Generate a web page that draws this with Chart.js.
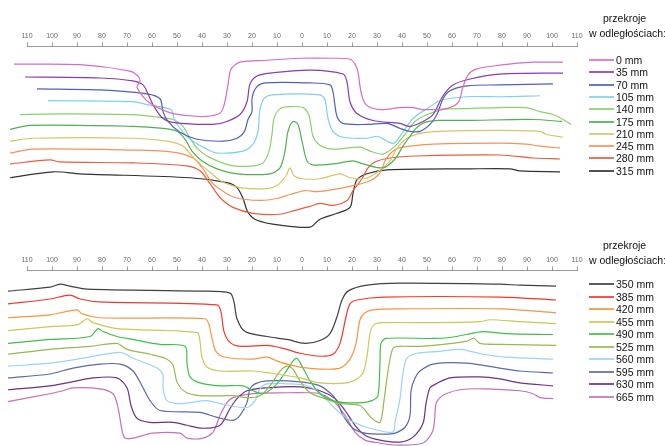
<!DOCTYPE html>
<html>
<head>
<meta charset="utf-8">
<script src="https://cdn.jsdelivr.net/npm/chart.js@4.4.0/dist/chart.umd.min.js"></script>
<style>
  body { margin: 0; background: #fff; width: 665px; height: 446px; overflow: hidden; position: relative;
         font-family: "Liberation Sans", Arial, sans-serif; }
  canvas { position: absolute; left: 0; }
  #c1 { top: 0; }
  #c2 { top: 224px; }
  .lg { position: absolute; font-size: 10.5px; color: #111; white-space: nowrap; line-height: 12px; }
  .sw { position: absolute; height: 2px; width: 25px; opacity: 0.85; }
</style>
</head>
<body>
<canvas id="c1" width="665" height="236"></canvas>
<canvas id="c2" width="665" height="222"></canvas>
<div id="legends"></div>
<script>
// odległość od osi [-110..110], głębokość (w dół od osi)
const topSections = ['0 mm', '35 mm', '70 mm', '105 mm', '140 mm', '175 mm', '210 mm', '245 mm', '280 mm', '315 mm'];
const bottomSections = ['350 mm', '385 mm', '420 mm', '455 mm', '490 mm', '525 mm', '560 mm', '595 mm', '630 mm', '665 mm'];
const axisTicks = [-110, -100, -90, -80, -70, -60, -50, -40, -30, -20, -10, 0, 10, 20, 30, 40, 50, 60, 70, 80, 90, 100, 110];

const p0 = [[-115.2,18],[-88.8,18.5],[-68.8,25],[-65.6,30],[-64.8,35],[-66,41],[-64.4,48],[-61.6,56],[-56.8,63],[-51.6,68],[-40.8,71],[-34,69],[-31.6,63],[-29.6,39],[-28.4,23],[-24.8,16],[-14,14],[-0.8,12],[12.4,12],[19.2,13],[21.2,18],[22.4,26],[23.6,46],[25.6,59],[31.2,64],[39.2,62],[44.4,62],[48.4,64],[57.6,63],[62.4,57],[64.4,41],[66.4,29],[69.6,23],[79.2,19],[92.4,16],[104.4,16]];
const p35 = [[-110.8,31],[-80.8,32],[-67.6,35],[-63.6,39],[-61.6,48],[-59.6,59],[-56,72],[-51.6,77],[-35.6,79],[-30,76],[-24.8,69],[-22,56],[-20.8,38],[-18,30],[-12.8,27],[3.2,24],[16.4,28],[18,36],[19.2,56],[22,68],[28.4,75],[39.2,78],[43.2,81],[48.4,76],[52.4,69],[56.4,50],[60.4,39],[67.2,33],[79.2,28],[104.4,27]];
const p70 = [[-106,43],[-80.8,44],[-62,48],[-56.8,53],[-55.6,66],[-53.6,76],[-48.8,87],[-42,94],[-31.6,96],[-26,93],[-23,86],[-21.6,74],[-20,66],[-20,53],[-18.4,42],[-14.8,37],[3.2,37],[11.2,39],[12.4,46],[14,71],[16.4,78],[26,79],[34,78],[39.2,83],[43.2,86],[47.2,86],[51.2,79],[54,69],[56.4,53],[59.2,45],[66,40],[79.2,39],[100.4,38]];
const p105 = [[-101.6,55],[-67.6,56],[-62,59],[-54.8,62],[-52,65],[-51.2,73],[-47.6,87],[-43.6,96],[-38,104],[-34,108],[-23.6,106],[-19.6,99],[-17.6,86],[-16.8,64],[-15.2,53],[-12,49],[7.2,49],[9.2,54],[10.4,73],[12.4,86],[16.4,92],[26,93],[30,91],[34,96],[36.8,98],[40,88],[44.4,73],[50,63],[55.2,55],[65.6,51],[79.2,51],[95.2,50]];
const p140 = [[-116.8,73],[-112.8,69],[-67.6,69],[-59.6,71],[-51.6,74],[-47.6,81],[-44.8,93],[-42,103],[-38,111],[-32.8,117],[-27.6,121],[-19.6,121],[-15.6,118],[-13.2,106],[-12,89],[-11.2,73],[-8.8,63],[-4.8,61],[0.4,62],[2.8,70],[4.4,91],[7.2,100],[12.4,104],[23.2,102],[27.2,106],[32.4,109],[37.2,101],[41.2,89],[45.2,76],[49.2,70],[56.4,64],[65.6,63],[79.2,62],[89.6,62],[95.2,66],[100.4,69],[104.4,74],[107.6,79]];
const p175 = [[-116.8,84],[-108.8,80],[-67.6,81],[-55.6,83],[-50,86],[-46.8,94],[-44,106],[-40,116],[-34,124],[-26,129],[-12.8,129],[-8.8,123],[-6.8,106],[-5.6,86],[-3.6,76],[-1.6,79],[0,96],[2,116],[4.4,120],[12.4,119],[20.4,116],[24.4,119],[32.4,123],[37.2,114],[40.4,101],[43.2,91],[45.6,83],[49.2,77],[55.2,75],[65.6,75],[92.4,74],[104,76]];
const p210 = [[-116.8,96],[-107.6,93],[-67.6,93],[-54,96],[-47.6,101],[-44,111],[-40.8,119],[-36,129],[-32,137],[-24.8,143],[-14,144],[-9.6,140],[-6.4,131],[-4.8,123],[-3.2,131],[0.4,134],[7.2,134],[15.2,129],[19.2,133],[25.2,134],[30.4,127],[35.2,116],[38,103],[42,93],[47.2,88],[55.2,86],[79.2,85],[95.2,86],[97.6,89],[104.4,92]];
const p245 = [[-116.8,108],[-107.6,104],[-67.6,105],[-51.6,107],[-43.6,113],[-39.6,124],[-36,138],[-32,146],[-26.8,153],[-16.8,156],[-10,154],[-4.8,150],[1.2,146],[6,147],[12.4,145],[20.4,141],[27.2,136],[31.2,128],[33.6,114],[37.6,104],[43.2,101],[52.4,99],[79.2,98],[89.6,99],[95.2,101],[103.2,103]];
const p280 = [[-116.8,119],[-100.8,115],[-96.8,117],[-67.6,118],[-46,121],[-40.8,126],[-36.8,139],[-32.8,153],[-27.6,163],[-19.6,169],[-8.8,170],[-2.8,166],[3.2,162],[7.2,159],[12.4,161],[18,156],[20.4,146],[24,134],[26.4,123],[29.2,117],[35.2,113],[46,111],[79.2,110],[92.4,113],[103.2,114]];
const p315 = [[-116.8,133],[-99.6,127],[-88.8,129],[-44.8,133],[-30,138],[-26,143],[-23.6,154],[-21.6,168],[-18,176],[-8.8,181],[3.2,183],[7.2,175],[14,169],[19.2,163],[20.4,149],[22,135],[26,129],[34,125],[67.2,124],[83.2,124],[87.2,126],[103.2,127]];

const p350 = [[-117.6,21],[-100.8,17],[-96.8,14],[-92.8,16],[-86,19],[-40.8,21],[-28.8,23],[-27.2,32],[-26,49],[-22.8,62],[-14,67],[-6,70],[1.2,74],[7.2,71],[11.2,64],[14,47],[16,30],[18.4,21],[26,15],[39.2,13],[79.2,14],[87.2,15],[101.6,16]];
const p385 = [[-117.6,34],[-100.8,29],[-92.8,25],[-88.8,29],[-80.8,32],[-34,35],[-32.4,42],[-31.2,62],[-28.8,73],[-24.8,77],[-14,76],[-7.6,79],[-0.8,84],[7.2,87],[12.4,85],[15.2,74],[17.6,47],[19.2,34],[22,30],[32.4,27],[79.2,27],[101.6,30]];
const p420 = [[-117.6,48],[-100.8,45],[-90,40],[-88,44],[-80.8,48],[-38.8,49],[-37.2,55],[-36,69],[-34.4,82],[-30.8,88],[-19.6,90],[-14,88],[-8.8,93],[-0.8,98],[7.2,100],[15.2,99],[19.2,90],[21.6,74],[23.2,50],[25.2,43],[28.4,40],[39.2,39],[79.2,39],[101.6,43]];
const p455 = [[-117.6,61],[-100.8,57],[-89.6,55],[-86,49],[-83.6,53],[-74,59],[-42,63],[-40.8,72],[-40,88],[-38,98],[-32.8,102],[-19.6,102],[-12.8,104],[-0.8,109],[7.2,114],[18,114],[22,110],[24.4,104],[26,87],[27.2,64],[28.8,55],[32.4,53],[52.4,53],[71.2,52],[75.2,50],[87.2,52],[101.6,54]];
const p490 = [[-117.6,74],[-100.8,70],[-84.8,67],[-81.6,59],[-79.6,62],[-74,67],[-67.6,70],[-56.8,75],[-46.8,77],[-46,94],[-44.8,108],[-40.8,114],[-32.8,117],[-23.6,117],[-19.6,122],[-15.6,125],[-10.8,117],[-6.8,104],[-3.6,92],[-2,89],[0,97],[3.2,112],[7.2,125],[12.4,132],[17.2,134],[24,134],[28,132],[30.4,127],[31.2,92],[31.6,74],[33.6,69],[52.4,69],[59.2,68],[69.6,63],[72.4,62],[81.6,64],[100.4,65]];
const p525 = [[-117.6,85],[-100.8,80],[-84.8,77],[-74,74],[-70,80],[-60.8,85],[-54,90],[-51.6,96],[-50,113],[-46.8,123],[-40.8,127],[-27.6,127],[-22,129],[-16.8,127],[-12.8,117],[-8.8,102],[-6,97],[-3.6,100],[-0.8,112],[3.2,124],[9.2,130],[15.2,135],[23.2,137],[28,150],[31.2,154],[32.8,132],[34.4,102],[36.4,79],[39.2,77],[47.2,77],[56.4,75],[65.6,72],[68.8,69],[71.2,74],[79.2,75],[101.6,76]];
const p560 = [[-117.6,97],[-100.8,94],[-87.6,89],[-72.8,83],[-67.6,89],[-58,99],[-55.6,106],[-55.6,119],[-54,132],[-48.8,135],[-38,132],[-32.8,135],[-22,139],[-18.8,132],[-16.8,120],[-14,115],[-6,115],[2,117],[7.2,124],[13.2,140],[19.2,152],[27.2,160],[36.4,164],[37.2,154],[39.2,130],[40.4,104],[42,89],[46,84],[55.2,82],[63.2,80],[72.4,85],[81.6,88],[100.4,90]];
const p595 = [[-117.6,109],[-100.8,105],[-91.6,99],[-80.8,95],[-72.8,95],[-67.6,102],[-63.6,119],[-60.8,132],[-56.8,142],[-40.8,144],[-34,149],[-27.6,152],[-24.8,147],[-22,134],[-20.8,120],[-18.8,115],[-14,112],[-0.8,113],[7.2,117],[12.4,127],[14.4,135],[16.4,147],[20.4,160],[25.2,165],[33.2,166],[37.2,165],[41.2,159],[43.2,147],[43.6,122],[45.2,109],[47.2,102],[52.4,95],[65.6,94],[79.2,99],[87.2,102],[100.4,104]];
const p630 = [[-117.6,121],[-100.8,117],[-94,114],[-83.6,109],[-74,109],[-70,119],[-68.4,137],[-66,150],[-60.8,154],[-51.6,154],[-46,157],[-39.6,160],[-32.8,157],[-28.8,140],[-26,130],[-22,122],[-14,119],[-0.8,118],[7.2,122],[13.2,130],[17.2,142],[21.2,157],[25.2,167],[31.2,172],[39.2,174],[44.4,169],[48.4,155],[49.6,135],[51.2,119],[53.6,115],[59.2,109],[71.2,108],[79.2,110],[87.2,114],[100.4,117]];
const p665 = [[-117.6,133],[-100.8,125],[-95.6,122],[-91.6,119],[-80.8,120],[-75.6,125],[-73.6,139],[-72,162],[-70.8,170],[-67.6,170],[-59.6,165],[-48.8,165],[-46,170],[-39.6,170],[-35.6,164],[-32.8,147],[-30,134],[-27.6,129],[-19.6,125],[-6,124],[2,124],[7.2,125],[12.4,132],[17.2,147],[21.2,164],[25.2,172],[31.2,175],[37.2,177],[48.4,175],[52.4,162],[53.6,135],[55.2,129],[57.6,125],[63.2,121],[72.4,120],[87.2,122],[92.4,125],[95.2,129],[100.4,130]];

const topProfiles = [p0, p35, p70, p105, p140, p175, p210, p245, p280, p315];
const bottomProfiles = [p350, p385, p420, p455, p490, p525, p560, p595, p630, p665];

const topColors = ['#d86cc4', '#8b3ca8', '#4d62b8', '#7dd0ee', '#8bd06a', '#4fb04f', '#d8c468', '#f2935a', '#e85d3c', '#333333'];
const bottomColors = ['#404040', '#f0382a', '#f7953f', '#c9c955', '#3fbf4a', '#98b850', '#9ad4f0', '#5a6aa8', '#6e2f86', '#c870b0'];

function makeChart(id, labels, profiles, colors, depthMax) {
    return new Chart(document.getElementById(id), {
        type: 'line',
        data: {
            datasets: profiles.map((p, i) => ({
                label: labels[i],
                data: p.map(([x, y]) => ({ x, y })),
                borderColor: colors[i],
                borderWidth: 1.2,
                pointRadius: 0,
                tension: 0.3,
                fill: false,
                clip: false
            }))
        },
        options: {
            responsive: false,
            animation: false,
            layout: { padding: { left: 27, right: 88, top: 30, bottom: 0 } },
            plugins: { legend: { display: false }, tooltip: { enabled: false } },
            scales: {
                x: {
                    type: 'linear',
                    position: 'top',
                    min: -110,
                    max: 110,
                    afterBuildTicks: axis => { axis.ticks = axisTicks.map(v => ({ value: v })); },
                    ticks: {
                        callback: v => Math.abs(v),
                        autoSkip: false,
                        maxRotation: 0,
                        padding: 2,
                        color: '#6a6a6a',
                        font: { family: 'Liberation Sans', size: 7 }
                    },
                    grid: { drawOnChartArea: false, tickLength: 4, color: '#999' },
                    border: { color: '#999' }
                },
                y: { display: false, reverse: true, min: 0, max: depthMax }
            }
        }
    });
}

const chartTop = makeChart('c1', topSections, topProfiles, topColors, 192);
const chartBottom = makeChart('c2', bottomSections, bottomProfiles, bottomColors, 178);

// legenda
function drawLegend(chart, offsetTop, titleY, firstRow, step) {
    const box = document.getElementById('legends');
    const t1 = document.createElement('div');
    t1.className = 'lg';
    t1.textContent = 'przekroje';
    t1.style.left = '603px';
    t1.style.top = (offsetTop + titleY) + 'px';
    box.appendChild(t1);
    const t2 = document.createElement('div');
    t2.className = 'lg';
    t2.textContent = 'w odległościach:';
    t2.style.left = '589px';
    t2.style.top = (offsetTop + titleY + 15) + 'px';
    box.appendChild(t2);
    chart.data.datasets.forEach((ds, i) => {
        const y = Math.round(offsetTop + firstRow + i * step);
        const sw = document.createElement('div');
        sw.className = 'sw';
        sw.style.left = '589px';
        sw.style.top = y + 'px';
        sw.style.background = ds.borderColor;
        box.appendChild(sw);
        const tx = document.createElement('div');
        tx.className = 'lg';
        tx.textContent = ds.label;
        tx.style.left = '616px';
        tx.style.top = (y - 5) + 'px';
        box.appendChild(tx);
    });
}
drawLegend(chartTop, 0, 12, 59, 12.3);
drawLegend(chartBottom, 224, 15, 59, 12.5);
</script>
</body>
</html>
